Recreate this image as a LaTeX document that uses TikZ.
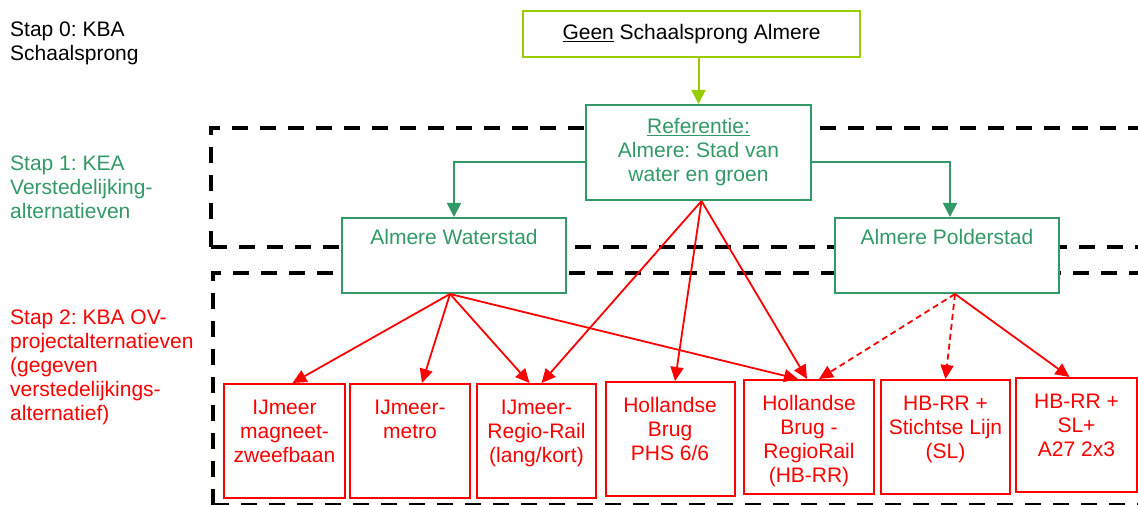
\documentclass[tikz,border=0pt]{standalone}
\usepackage{fontspec}
\setmainfont{Liberation Sans}
\usetikzlibrary{arrows.meta}
\frenchspacing

\definecolor{stepzero}{RGB}{153,204,0}
\definecolor{stepone}{RGB}{51,153,102}
\definecolor{steptwo}{RGB}{255,0,0}

\newcommand{\boxlines}[1]{\begin{tabular}[t]{@{}c@{}}#1\end{tabular}}
\newcommand{\leftlines}[1]{\begin{tabular}[t]{@{}l@{}}#1\end{tabular}}

\tikzset{
  every node/.style={font={\fontsize{21}{24}\selectfont}, inner sep=0pt},
  frame/.style={draw=black, line width=4pt, dash pattern=on 16pt off 12pt},
  altbox/.style={draw=#1, fill=white, text=#1, line width=2pt},
  ovbox/.style={altbox=steptwo, minimum width=121pt, text height=30pt, text depth=84pt, anchor=north},
  keabox/.style={altbox=stepone, minimum width=224pt, text height=27pt, text depth=48pt, anchor=north},
  greenarrow/.style={draw=stepone, line width=2pt, -{Triangle[length=14pt,width=14pt]}},
  redarrow/.style={draw=steptwo, line width=1.8pt, -{Triangle[length=14pt,width=13pt]}},
  redoption/.style={redarrow, dash pattern=on 6pt off 4pt}
}

\begin{document}
\begin{tikzpicture}[x=1pt, y=-1pt]

\useasboundingbox (0,0) rectangle (1138,505);

% dashed frames of step 1 and step 2
\draw[frame] (211,247) -- (211,128) -- (1150,128);
\draw[frame] (211,247) -- (1150,247);
\draw[frame] (213,505) -- (213,273) -- (1150,273);
\draw[frame] (213,505) -- (1150,505);

% step labels
\node[anchor=base west, text=black] (stap0) at (10,36.5) {\leftlines{Stap 0: KBA\\Schaalsprong}};
\node[anchor=base west, text=stepone] (stap1) at (10,170.5) {\leftlines{Stap 1: KEA\\Verstedelijking-\\alternatieven}};
\node[anchor=base west, text=steptwo] (stap2) at (10,324.5) {\leftlines{Stap 2: KBA OV-\\projectalternatieven\\(gegeven\\verstedelijkings-\\alternatief)}};

\node[altbox=stepzero, text=black, minimum width=337pt, minimum height=46pt] (geen)
 at (691.5,34) {\underline{Geen} Schaalsprong Almere};

\node[altbox=stepone, minimum width=225pt, text height=29pt, text depth=66pt, anchor=north] (ref)
 at (698.5,104) {\boxlines{\underline{Referentie:}\\Almere: Stad van\\water en groen}};

\node[keabox] (waterstad) at (454,217) {\boxlines{Almere Waterstad}};
\node[keabox] (polderstad) at (947,217) {\boxlines{Almere Polderstad}};

% OV project alternatives
\node[ovbox] (magneet) at (284.5,383) {\boxlines{IJmeer\\magneet-\\zweefbaan}};
\node[ovbox, minimum width=120pt] (metro) at (410,383) {\boxlines{IJmeer-\\metro}};
\node[ovbox, minimum width=119pt] (regiorail) at (536.5,383) {\boxlines{IJmeer-\\Regio-Rail\\(lang/kort)}};
\node[ovbox, minimum width=129pt] (phs) at (670,381) {\boxlines{Hollandse\\Brug\\PHS 6/6}};
\node[ovbox, minimum width=130pt] (hbrr) at (809,379) {\boxlines{Hollandse\\Brug -\\RegioRail\\(HB-RR)}};
\node[ovbox, minimum width=129pt] (stichtse) at (945.5,379) {\boxlines{HB-RR +\\Stichtse Lijn\\(SL)}};
\node[ovbox] (snelweg) at (1076.5,377) {\boxlines{HB-RR +\\SL+\\A27 2x3}};

\draw[greenarrow, draw=stepzero] (ref.north |- geen.south) -- (ref.north);
\draw[greenarrow] ([yshift=-10pt]ref.west) -| (waterstad.north);
\draw[greenarrow] ([yshift=-10pt]ref.east) -| ([xshift=3pt]polderstad.north);

\draw[redarrow] ([xshift=-4pt]waterstad.south) -- ([xshift=8pt]magneet.north);
\draw[redarrow] ([xshift=-4pt]waterstad.south) -- ([xshift=12pt]metro.north);
\draw[redarrow] ([xshift=-4pt]waterstad.south) -- ([xshift=-7pt]regiorail.north);
\draw[redarrow] ([xshift=-4pt]waterstad.south) -- ([xshift=-11pt]hbrr.north);

\draw[redarrow] ([xshift=3pt]ref.south) -- ([xshift=5pt]regiorail.north);
\draw[redarrow] ([xshift=3pt]ref.south) -- ([xshift=5pt]phs.north);
\draw[redarrow] ([xshift=3pt]ref.south) -- ([xshift=-2pt]hbrr.north);

\draw[redoption] ([xshift=8pt]polderstad.south) -- ([xshift=10pt]hbrr.north);
\draw[redoption] ([xshift=8pt]polderstad.south) -- (stichtse.north);
\draw[redarrow] ([xshift=8pt]polderstad.south) -- ([xshift=-7pt]snelweg.north);

\end{tikzpicture}
\end{document}
